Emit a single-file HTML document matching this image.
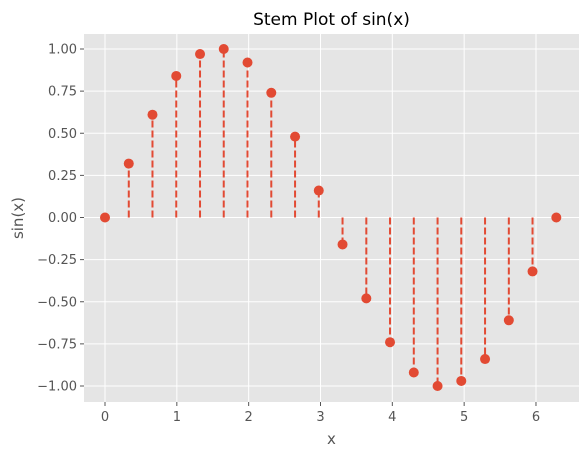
<!DOCTYPE html>
<html><head><meta charset="utf-8"><style>body{margin:0;background:#fff}svg{display:block;font-family:"DejaVu Sans","Liberation Sans",sans-serif}</style></head>
<body>
<svg id="chart" width="588" height="457"></svg>
<script>
const xValues=[0,0.331,0.661,0.992,1.323,1.653,1.984,2.315,2.646,2.976,3.307,3.638,3.968,4.299,4.630,4.960,5.291,5.622,5.952,6.283];
const yValues=[0,0.32,0.61,0.84,0.97,1.0,0.92,0.74,0.48,0.16,-0.16,-0.48,-0.74,-0.92,-1.0,-0.97,-0.84,-0.61,-0.32,0];
const xTicks=[0,1,2,3,4,5,6];
const yTicks=[-1,-0.75,-0.5,-0.25,0,0.25,0.5,0.75,1];
const L=84,R=579,T=34,B=402;
const sx=v=>105+v*71.83, sy=v=>217.5-v*168.5;
const svg=document.getElementById('chart');const NS='http://www.w3.org/2000/svg';
function mk(t,a,p){const e=document.createElementNS(NS,t);for(const k in a)e.setAttribute(k,a[k]);(p||svg).appendChild(e);return e;}
let bg=mk('rect',{x:L,y:T,width:R-L,height:B-T,fill:'#e5e5e5'});


xTicks.forEach(t=>{const x=sx(t);
 let g=mk('line',{x1:x,x2:x,y1:T,y2:B,stroke:'#fff','stroke-width':1});
 
 
 mk('line',{x1:x,x2:x,y1:B,y2:B+4,stroke:'#555'});
 let tx=mk('text',{x:x,y:B+19,'text-anchor':'middle','font-size':13,fill:'#555'});tx.textContent=t;
 
 });
yTicks.forEach(t=>{const y=sy(t);
 let g=mk('line',{x1:L,x2:R,y1:y,y2:y,stroke:'#fff','stroke-width':1});
 
 
 mk('line',{x1:L-4,x2:L,y1:y,y2:y,stroke:'#555'});
 let tx=mk('text',{x:L-7,y:y+4.5,'text-anchor':'end','font-size':13,fill:'#555'});tx.textContent=t.toFixed(2).replace('-','−');
 
 });
xValues.forEach((xv,i)=>{const x=sx(xv),y=sy(yValues[i]);
 let s=mk('line',{x1:x,x2:x,y1:sy(0),y2:y,stroke:'#e24a33','stroke-width':2,'stroke-dasharray':'7,3'});
 
 
 let c=mk('circle',{cx:x,cy:y,r:5,fill:'#e24a33'});
 
 });
let ti=mk('text',{x:(L+R)/2,y:25,'text-anchor':'middle','font-size':17,fill:'#000'});ti.textContent='Stem Plot of sin(x)';

let xl=mk('text',{x:(L+R)/2,y:444,'text-anchor':'middle','font-size':15,fill:'#555'});xl.textContent='x';

let yl=mk('text',{x:23,y:218,'text-anchor':'middle','font-size':15,fill:'#555',transform:'rotate(-90 23 218)'});yl.textContent='sin(x)';

</script>
</body></html>
